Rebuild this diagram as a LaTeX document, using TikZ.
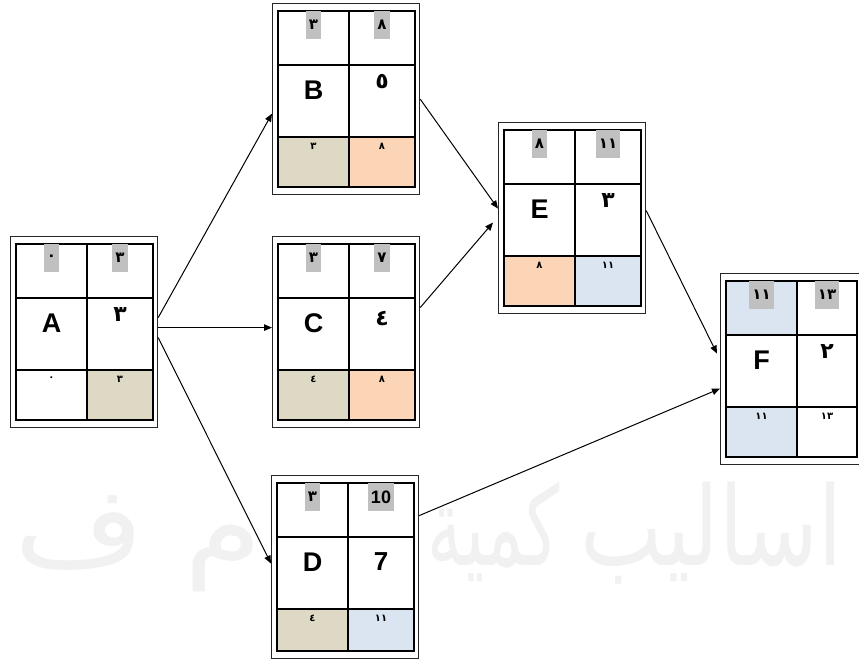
\documentclass[tikz,border=0pt]{standalone}
\usepackage{fontspec}
\setmainfont{Liberation Sans}
\newfontfamily\arabicfont[Script=Arabic]{DejaVu Sans}
\TeXXeTstate=1
\usetikzlibrary{arrows.meta}

\definecolor{tanfill}{HTML}{DDD9C4}
\definecolor{peachfill}{HTML}{FBD5B5}
\definecolor{bluefill}{HTML}{DBE5F1}
\definecolor{hlgray}{HTML}{C0C0C0}
\definecolor{wmgray}{HTML}{F1F1F1}

\tikzset{box bottom/.store in=\boxbot, box right/.store in=\boxright,
  box bottom=50, box right=66}

\newcommand{\latinsz}[1]{\normalfont\bfseries\fontsize{#1}{#1}\selectfont}

\newcommand{\actbox}[5][]{%
  \begin{scope}[shift={(#3,#4)},#1]
    \fill[white] (0,0) rectangle (81+\boxright,141+\boxbot);
    \foreach \cx/\ry/\fc in {#5} {
      \pgfmathsetmacro{\fx}{\cx==0 ? 6 : 77}
      \pgfmathsetmacro{\fw}{\cx==0 ? 71 : \boxright}
      \pgfmathsetmacro{\fy}{\ry==0 ? 8 : 134}
      \pgfmathsetmacro{\fh}{\ry==0 ? 54 : \boxbot}
      \fill[\fc] (\fx,\fy) rectangle ++(\fw,\fh);
    }
    \draw[gridline] (6,8) rectangle (77+\boxright,134+\boxbot);
    \draw[gridline] (77,8) -- (77,134+\boxbot);
    \draw[gridline] (6,62) -- (77+\boxright,62);
    \draw[gridline] (6,134) -- (77+\boxright,134);
    \node[frame,minimum width={(81+\boxright)*1pt},minimum height={(141+\boxbot)*1pt}] (#2) at (0,0) {};
    \coordinate (#2-tl) at (41.5,8);
    \coordinate (#2-tr) at ({77+\boxright/2},8);
    \coordinate (#2-ml) at (41.5,62);
    \coordinate (#2-mr) at ({77+\boxright/2},62);
    \coordinate (#2-bl) at (41.5,134);
    \coordinate (#2-br) at ({77+\boxright/2},134);
  \end{scope}
}

\newcommand{\boxtext}[8][17]{%
  \node[topnum] (#2-t1) at (#2-tl) {#3};
  \node[topnum] (#2-t2) at (#2-tr) {#4};
  \node[letter] (#2-name) at ([yshift=-25pt]#2-ml) {#5};
  \node[midnum] (#2-dur) at ([yshift=-#1pt]#2-mr) {#6};
  \node[lownum] (#2-b1) at ([yshift=-9pt]#2-bl) {#7};
  \node[lownum] (#2-b2) at ([yshift=-9pt]#2-br) {#8};
}

\begin{document}
\begin{tikzpicture}[x=1pt,y=-1pt,
  frame/.style={draw=black!85,line width=1.2pt,inner sep=0pt,anchor=north west},
  gridline/.style={draw=black,line width=1.2pt},
  topnum/.style={anchor=north,fill=hlgray,minimum width=14pt,minimum height=28pt,
    inner xsep=3pt,inner ysep=0pt,font=\arabicfont\bfseries\fontsize{15}{15}\selectfont},
  letter/.style={inner sep=0pt,font=\bfseries\fontsize{27}{27}\selectfont},
  midnum/.style={inner sep=0pt,font=\arabicfont\bfseries\fontsize{22}{22}\selectfont},
  lownum/.style={inner sep=0pt,font=\arabicfont\bfseries\fontsize{10}{10}\selectfont},
  arr/.style={line width=1pt,-{Triangle[length=8pt,width=6.5pt]}},
  wmark/.style={inner sep=0pt,text=wmgray,font=\arabicfont\fontsize{110}{110}\selectfont}]
\useasboundingbox (0,0) rectangle (859,663);
\clip (0,0) rectangle (859,663);

\node[wmark,anchor=base east] (wm1) at (843,565) {\resizebox{262pt}{\height}{\beginR اساليب\endR}};
\node[wmark,anchor=base east] (wm2) at (560,565) {\resizebox{132pt}{\height}{\beginR كمية\endR}};
\node[wmark,anchor=base west] (wm3) at (14,565) {\resizebox{248pt}{\height}{\beginR م ف\endR}};

\actbox{A}{10}{236}{1/2/tanfill}
\actbox{B}{272}{3}{0/2/tanfill,1/2/peachfill}
\actbox{C}{272}{236}{0/2/tanfill,1/2/peachfill}
\actbox[box bottom=42]{D}{271}{475}{0/2/tanfill,1/2/bluefill}
\actbox{E}{498}{122}{0/2/peachfill,1/2/bluefill}
\actbox[box right=60]{F}{720}{273}{0/0/bluefill,0/2/bluefill}

\boxtext{A}{٠}{٣}{A}{٣}{٠}{٣}
\boxtext{B}{٣}{٨}{B}{٥}{٣}{٨}
\boxtext[21]{C}{٣}{٧}{C}{٤}{٤}{٨}
\boxtext[25]{D}{٣}{\latinsz{18}10}{D}{\latinsz{26}7}{٤}{١١}
\boxtext{E}{٨}{١١}{E}{٣}{٨}{١١}
\boxtext{F}{١١}{١٣}{F}{٢}{١١}{١٣}

\draw[arr] ([yshift=14.5pt]A.east) -- ([yshift=-14.5pt]B.west);
\draw[arr] ([yshift=4.5pt]A.east) -- ([yshift=4.5pt]C.west);
\draw[arr] ([yshift=-5.5pt]A.east) -- ([yshift=3.5pt]D.west);
\draw[arr] (B.east) -- ([yshift=9.5pt]E.west);
\draw[arr] ([yshift=24.5pt]C.east) -- ([xshift=-5pt,yshift=-4.5pt]E.west);
\draw[arr] ([yshift=7.5pt]E.east) -- ([xshift=-3pt,yshift=15.5pt]F.west);
\draw[arr] ([yshift=51.5pt]D.east) -- ([yshift=-19.5pt]F.west);
\end{tikzpicture}
\end{document}
